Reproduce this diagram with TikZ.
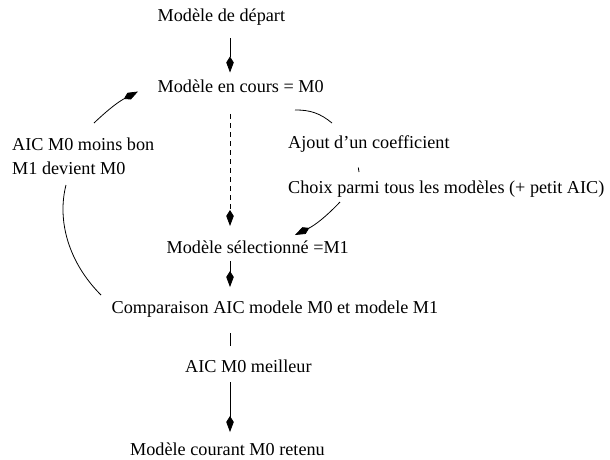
\documentclass[tikz,border=0pt]{standalone}
\usepackage{fontspec}
\setmainfont{Liberation Serif}
\usetikzlibrary{arrows.meta}
\begin{document}
\begin{tikzpicture}[x=1pt,y=-1pt,
  lbl/.style={anchor=base west,inner sep=0pt,font=\fontsize{18.2}{22}\selectfont},
  conn/.style={line width=0.8pt},
  arr/.style={conn,-{Kite[length=16pt,width=7.5pt,inset=6pt]}}]
\useasboundingbox (0,0) rectangle (610,459);
% texts
\node[lbl] (depart) at (157.5,21) {Modèle de départ};
\node[lbl] (encours) at (157.5,92) {Modèle en cours = M0};
\node[lbl] (ajout) at (288,148) {Ajout d’un coefficient};
\node[lbl] (choix) at (288,193) {Choix parmi tous les modèles (+ petit AIC)};
\node[lbl] (moins) at (12,150) {AIC M0 moins bon};
\node[lbl] (devient) at (12,174) {M1 devient M0};
\node[lbl] (select) at (166.5,253) {Modèle sélectionné =M1};
\node[lbl] (compar) at (111.5,313) {Comparaison AIC modele M0 et modele M1};
\node[lbl] (meilleur) at (185,372) {AIC M0 meilleur};
\node[lbl] (retenu) at (130,455) {Modèle courant M0 retenu};
% connector end points
\coordinate (a1) at (230,38);   \coordinate (a2) at (230,72.5);
\coordinate (b1) at (230,114);  \coordinate (b2) at (230,226);
\coordinate (c1) at (230,261);  \coordinate (c2) at (230,287);
\coordinate (d1) at (230,333);  \coordinate (d2) at (230,346);
\coordinate (e1) at (230,382);  \coordinate (e2) at (230,432);
\coordinate (r1) at (295,110);  \coordinate (r2) at (332,123);
\coordinate (t1) at (358.3,167.5); \coordinate (t2) at (359,172);
\coordinate (s1) at (340,202);  \coordinate (s2) at (295,235);
\coordinate (l1) at (94,123);   \coordinate (l2) at (138,91.5);
\coordinate (k1) at (66,185);   \coordinate (k2) at (101,295);
% connectors
\draw[arr] (a1) -- (a2);
\draw[arr,dashed,dash pattern=on 5pt off 4pt] (b1) -- (b2);
\draw[arr] (c1) -- (c2);
\draw[conn] (d1) -- (d2);
\draw[arr] (e1) -- (e2);
\draw[conn] (r1) to[bend left=20] (r2);
\draw[conn] (t1) -- (t2);
\draw[arr] (s1) to[bend left=10] (s2);
\draw[arr] (l1) to[bend left=8] (l2);
\draw[conn] (k1) .. controls (57,220) and (68,262) .. (k2);
\end{tikzpicture}
\end{document}
